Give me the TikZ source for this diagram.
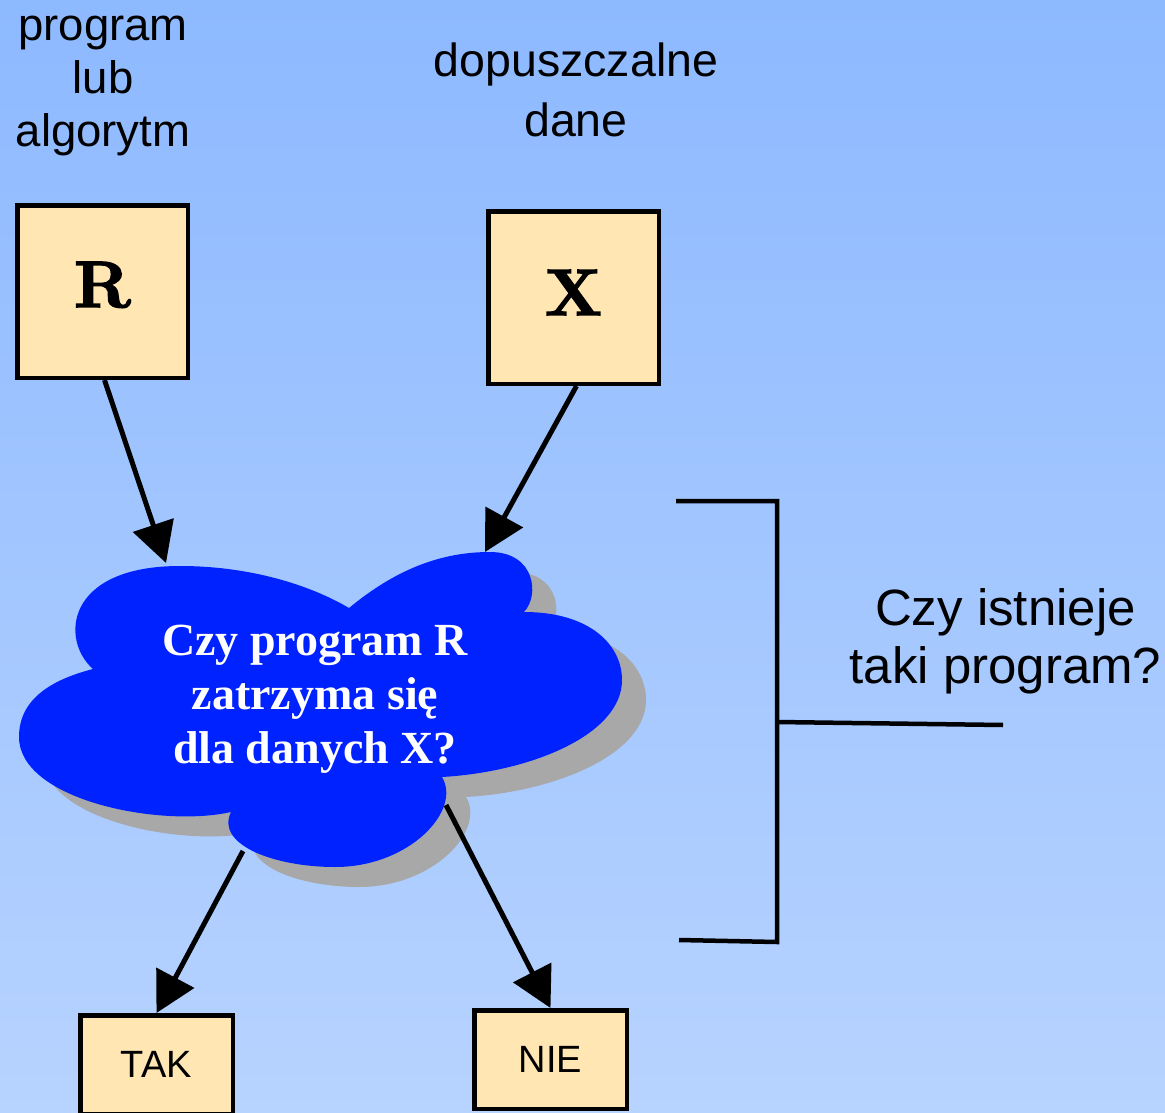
\documentclass[tikz,border=0pt]{standalone}
\usepackage{fontspec}
\newfontfamily\labelsans{Liberation Sans}
\newfontfamily\cloudserif{Liberation Serif}
\newfontfamily\boxletter{lmroman10-bold}[Extension=.otf, FakeBold=2]
\usetikzlibrary{arrows.meta}

\definecolor{bgtop}{RGB}{141,185,255}
\definecolor{bgbottom}{RGB}{183,211,255}
\definecolor{boxfill}{RGB}{255,230,179}
\definecolor{cloudblue}{RGB}{0,34,255}
\definecolor{cloudshadow}{RGB}{168,168,168}

% outline of the question cloud (five lobes)
\def\cloudpath{
  (93,669) .. controls (60,640) and (65,566) .. (180,566)
           .. controls (250,566) and (310,585) .. (349,608)
           .. controls (395,570) and (440,552) .. (490,552)
           .. controls (535,552) and (540,595) .. (524,612)
           .. controls (590,612) and (622,645) .. (622,680)
           .. controls (622,735) and (530,772) .. (442,777)
           .. controls (462,810) and (410,867) .. (335,867)
           .. controls (275,867) and (215,845) .. (231,812)
           .. controls (160,828) and (19,800) .. (19,737)
           .. controls (19,700) and (50,680) .. (93,669) -- cycle}

\begin{document}
\begin{tikzpicture}[x=1pt,y=-1pt,
  boxstyle/.style={draw=black, line width=4.5pt, fill=boxfill, inner sep=0pt},
  bigbox/.style={boxstyle, minimum width=170.5pt, minimum height=172.5pt,
                 font=\boxletter\fontsize{66}{66}\selectfont},
  smallbox/.style={boxstyle, minimum width=152.5pt, minimum height=98.5pt,
                   font=\labelsans\fontsize{38}{38}\selectfont},
  arrowline/.style={line width=5pt, -{Triangle[length=40pt,width=42pt]}},
  bracketline/.style={line width=4.5pt, line join=miter},
  caption/.style={inner sep=0pt, align=center, text=black}]

  \useasboundingbox (0,0) rectangle (1165,1113);
  \clip (0,0) rectangle (1165,1113);

  % background gradient
  \shade[top color=bgtop, bottom color=bgbottom] (0,0) rectangle (1165,1113);

  % cloud with its drop shadow
  \fill[cloudshadow, shift={(24,20)}] \cloudpath;
  \fill[cloudblue] \cloudpath;
  \node[caption, anchor=north, text=white,
        font=\cloudserif\bfseries\fontsize{46}{54}\selectfont] (question) at (315,617.2)
    {\strut Czy program R\strut\\\strut zatrzyma się\strut\\\strut dla danych X?\strut};

  % points on the cloud outline where the connectors meet it
  \coordinate (cloudR) at (166,563);
  \coordinate (cloudX) at (485,552);
  \coordinate (cloudYes) at (243,851);
  \coordinate (cloudNo) at (446,805);

  % input and output boxes
  \node[bigbox, text depth=14pt] (R) at (102.5,291.5) {R};
  \node[bigbox, text depth=10pt] (X) at (573.5,297.5) {X};
  \node[smallbox] (tak) at (156.5,1064.5) {TAK};
  \node[smallbox] (nie) at (550.5,1059.5) {NIE};

  % connectors
  \draw[arrowline] ([xshift=2pt]R.south) -- (cloudR);
  \draw[arrowline] ([xshift=3pt]X.south) -- (cloudX);
  \draw[arrowline] (cloudYes) -- (tak.north);
  \draw[arrowline] (cloudNo) -- (nie.north);

  % bracket spanning the whole question
  \draw[bracketline] (676,501) -- (777,501) -- (777,942) -- (679,940);
  \draw[bracketline] (777,722) -- (1003,725);

  % captions
  \node[caption, anchor=north, font=\labelsans\fontsize{45.5}{53}\selectfont] (progcap) at (103,2.9)
    {\strut program\strut\\\strut lub\strut\\\strut algorytm\strut};
  \node[caption, anchor=north, font=\labelsans\fontsize{46.5}{59.5}\selectfont] (datacap) at (576,35)
    {\strut dopuszczalne\strut\\\strut dane\strut};
  \node[caption, anchor=north, font=\labelsans\fontsize{51}{58}\selectfont] (existcap) at (1005.5,584.4)
    {\strut Czy istnieje\strut\\\strut taki program?\strut};
\end{tikzpicture}
\end{document}
